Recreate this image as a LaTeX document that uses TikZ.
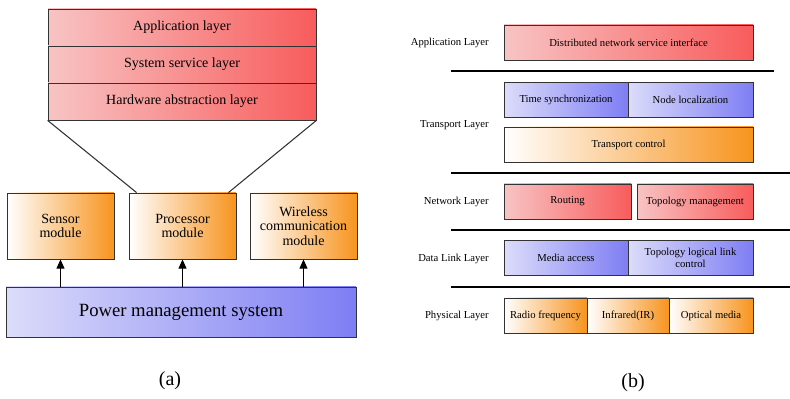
\documentclass[tikz,border=0pt]{standalone}
\usepackage{fontspec}
\setmainfont{Liberation Serif}
\usetikzlibrary{arrows.meta}

\definecolor{redL}{HTML}{F8C4C4}
\definecolor{redR}{HTML}{F85C5C}
\definecolor{bluL}{HTML}{DCDCFA}
\definecolor{bluR}{HTML}{7E7EF4}
\definecolor{orgR}{HTML}{F7941E}
\definecolor{edge}{HTML}{333333}

\tikzset{
  box/.style={draw=edge, line width=0.6pt, inner sep=1pt, align=center},
  redbox/.style={box, left color=redL, right color=redR},
  blubox/.style={box, left color=bluL, right color=bluR},
  orgbox/.style={box, left color=white, right color=orgR},
  stackrow/.style={redbox, minimum width=201pt, minimum height=27.75pt, font=\fontsize{10.5}{12}\selectfont},
  module/.style={orgbox, minimum width=80.25pt, minimum height=49.5pt, font=\fontsize{10.5}{11}\selectfont},
  proto/.style={minimum height=26.25pt, font=\fontsize{8}{9}\selectfont},
  layername/.style={anchor=east, inner sep=0pt, font=\fontsize{8}{9}\selectfont},
  sep/.style={line width=1.6pt},
}

\begin{document}
\begin{tikzpicture}[x=0.75pt, y=-0.75pt]
  \useasboundingbox (0,0) rectangle (790,399);

  % (a) node architecture
  \node[stackrow] (app) at (182,27.5) {Application layer};
  \node[stackrow] (srv) at (182,64.5) {System service layer};
  \node[stackrow] (hal) at (182,101.5) {Hardware abstraction layer};

  \node[module] (sensor) at (60.5,226) {Sensor\\module};
  \node[module] (proc) at (182.5,226) {Processor\\module};
  \node[module] (wless) at (303.5,226) {Wireless\\communication\\module};

  \node[blubox, minimum width=262.5pt, minimum height=37.5pt,
        font=\fontsize{14}{16}\selectfont] (power) at (181,312) {Power management system};

  \draw[edge, line width=0.8pt] (hal.south west) -- ([xshift=6pt]proc.north west);
  \draw[edge, line width=0.8pt] (hal.south east) -- ([xshift=-6pt]proc.north east);

  \foreach \m in {sensor,proc,wless}
    \draw[-{Triangle[length=7pt,width=6pt]}, line width=1pt] (power.north -| \m.south) -- (\m.south);

  \node[font=\fontsize{15}{17}\selectfont] (capa) at (170,381) {(a)};

  % (b) protocol stack
  \node[redbox, proto, minimum width=186.75pt] (dnsi) at (628.5,42.5) {Distributed network service interface};

  \node[blubox, proto, minimum width=93pt] (tsync) at (566,100) {Time synchronization};
  \node[blubox, proto, minimum width=93.75pt] (nloc) at (690.5,100) {Node localization};
  \node[orgbox, proto, minimum width=186.75pt] (tctl) at (628.5,144.5) {Transport control};

  \node[redbox, proto, minimum width=95.25pt] (route) at (567.5,201.5) {Routing};
  \node[redbox, proto, minimum width=87pt] (topo) at (695,201.5) {Topology management};

  \node[blubox, proto, minimum width=93pt] (mac) at (566,258) {Media access};
  \node[blubox, proto, minimum width=93.75pt] (llc) at (690.5,258) {Topology logical link\\control};

  \node[orgbox, proto, minimum width=62.25pt] (radio) at (545.5,315.5) {Radio frequency};
  \node[orgbox, proto, minimum width=61.5pt] (ir) at (628,315.5) {Infrared(IR)};
  \node[orgbox, proto, minimum width=63pt] (optic) at (711,315.5) {Optical media};

  \node[layername] (lapp) at (489,43) {Application Layer};
  \node[layername] (ltra) at (489,125) {Transport Layer};
  \node[layername] (lnet) at (489,202) {Network Layer};
  \node[layername] (ldl) at (489,259) {Data Link Layer};
  \node[layername] (lphy) at (489,316) {Physical Layer};

  \draw[sep] (451,71) -- (774,71);
  \foreach \y in {173,230,287}
    \draw[sep] (451,\y) -- (790,\y);

  \node[font=\fontsize{15}{17}\selectfont] (capb) at (633,383) {(b)};
\end{tikzpicture}
\end{document}
